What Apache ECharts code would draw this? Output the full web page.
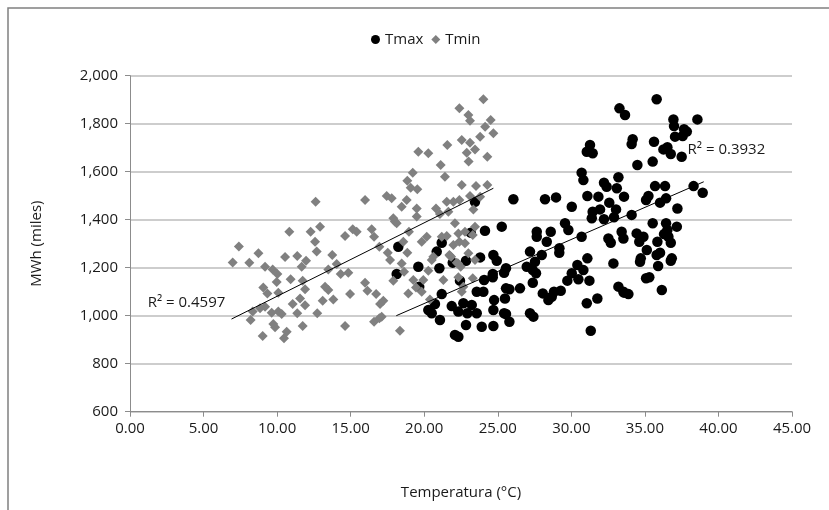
<!DOCTYPE html>
<html>
<head>
<meta charset="utf-8">
<script src="https://cdn.jsdelivr.net/npm/echarts@6/dist/echarts.min.js"></script>
<style>
html,body{margin:0;padding:0;background:#fff}
#chart{width:829px;height:510px}
</style>
</head>
<body>
<div id="chart"></div>
<script>
var xTicks = [0, 45, 5],
    yTicks = [600, 2000, 200];

// [temperatura, MWh]
var tmaxPoints = [
    [18.24,1287],[18.13,1174],[19.6,1204],[19.66,1121],[23.45,1475],[24.13,1354],[25.27,1371],[23.16,1346],
    [21.19,1304],[20.85,1267],[21.94,1221],[22.84,1229],[23.8,1243],[24.7,1253],[24.93,1229],[21.03,1198],
    [22.43,1146],[24.66,1160],[24.07,1149],[21.19,1090],[23.57,1100],[24.02,1100],[24.75,1065],[25.49,1072],
    [25.56,1114],[20.73,1049],[20.28,1024],[20.51,1010],[21.87,1040],[22.32,1017],[22.66,1052],[23.23,1045],
    [22.93,1010],[23.57,1010],[24.7,1024],[25.43,1010],[21.07,982],[22.84,961],[23.91,954],[24.7,957],
    [22.09,920],[22.32,912],[27.19,1267],[27.99,1253],[27.53,1225],[29.18,1262],[26.97,1204],[27.38,1190],
    [27.6,1177],[25.56,1198],[25.43,1179],[24.66,1174],[25.79,1110],[26.51,1114],[27.38,1137],[28.06,1093],
    [28.44,1065],[28.67,1079],[28.82,1100],[29.28,1104],[29.73,1146],[30.03,1177],[30.41,1211],[30.82,1190],
    [30.48,1152],[31.23,1146],[31.09,1239],[31.77,1072],[31.05,1052],[31.32,937],[25.56,1007],[25.79,975],
    [27.19,1010],[27.42,996],[31.27,1711],[31.05,1683],[31.45,1677],[30.7,1596],[30.82,1565],[26.06,1485],
    [28.21,1485],[28.96,1493],[30.03,1454],[31.09,1499],[31.84,1496],[31.45,1433],[31.39,1406],[29.57,1385],
    [29.8,1357],[30.7,1329],[28.6,1350],[27.65,1350],[27.65,1329],[28.33,1308],[29.19,1281],[33.2,1577],
    [32.22,1554],[32.4,1537],[33.09,1531],[33.58,1496],[32.58,1471],[31.95,1443],[33.04,1443],[32.22,1402],
    [32.9,1410],[33.42,1350],[33.54,1322],[32.52,1322],[32.68,1304],[32.86,1218],[33.2,1121],[33.54,1100],
    [35.8,1902],[33.27,1864],[33.65,1836],[36.94,1818],[38.57,1818],[36.98,1790],[37.66,1777],[37.85,1767],
    [37.57,1749],[37.05,1746],[34.17,1735],[34.1,1715],[35.62,1725],[36.26,1693],[36.53,1702],[36.76,1674],
    [37.5,1662],[35.53,1642],[34.49,1628],[35.69,1540],[36.37,1540],[38.31,1540],[38.93,1512],[35.24,1499],
    [35.08,1482],[36.03,1471],[36.44,1489],[37.21,1447],[34.1,1420],[35.53,1385],[36.44,1385],[37.17,1371],
    [36.53,1357],[36.3,1340],[36.6,1329],[34.44,1343],[34.62,1308],[34.9,1329],[35.85,1308],[36.76,1304],
    [35.13,1274],[35.8,1253],[36.03,1262],[36.83,1239],[34.72,1239],[34.67,1225],[36.76,1229],[35.9,1207],
    [35.08,1156],[35.3,1160],[33.58,1096],[33.88,1090],[36.15,1107]
];

var tminPoints = [
    [6.98,1222],[7.4,1288],[8.11,1221],[8.73,1260],[9.18,1204],[9.7,1193],[10.02,1174],[10.54,1245],
    [11.37,1249],[11.67,1204],[11.97,1229],[12.69,1267],[13.75,1253],[10.92,1152],[9.97,1140],[9.06,1118],
    [9.34,1093],[10.08,1096],[11.74,1146],[11.9,1110],[11.56,1072],[11.06,1049],[11.9,1044],[12.73,1010],
    [11.37,1010],[10.31,1007],[10.08,1017],[9.63,1012],[8.84,1031],[9.18,1037],[8.34,1017],[8.2,982],
    [9.74,965],[9.86,952],[9.02,915],[10.65,933],[10.47,906],[11.74,957],[14.62,957],[13.48,1193],
    [14.05,1215],[14.32,1174],[14.84,1179],[13.26,1121],[13.48,1107],[13.1,1062],[13.82,1068],[14.96,1090],
    [15.98,1137],[16.14,1104],[16.73,1090],[17.22,1062],[17.0,1049],[16.95,989],[16.59,975],[17.9,1146],
    [18.47,1218],[18.35,937],[18.92,1093],[19.44,1118],[17.68,1232],[19.6,1683],[19.22,1596],[18.85,1562],
    [19.08,1533],[18.81,1482],[18.47,1454],[19.49,1447],[17.45,1499],[17.79,1489],[15.98,1482],[12.62,1475],
    [17.9,1406],[18.13,1385],[19.49,1413],[16.43,1360],[16.59,1329],[15.14,1360],[15.41,1350],[14.62,1332],
    [12.92,1371],[12.28,1350],[12.58,1308],[10.83,1350],[16.95,1287],[17.52,1262],[18.85,1262],[18.58,1308],
    [24.02,1902],[22.39,1864],[23.0,1836],[23.11,1812],[24.52,1815],[24.14,1787],[24.7,1760],[23.8,1746],
    [22.55,1732],[23.11,1721],[21.57,1711],[20.28,1677],[23.45,1693],[22.89,1679],[24.29,1662],[23.02,1642],
    [21.12,1628],[21.41,1579],[22.55,1545],[23.52,1540],[24.29,1545],[19.53,1527],[23.11,1499],[23.8,1496],
    [21.53,1475],[21.98,1475],[22.39,1482],[23.34,1443],[20.8,1447],[21.07,1424],[21.64,1433],[22.09,1385],
    [20.17,1329],[19.83,1308],[21.19,1329],[22.32,1343],[22.77,1350],[23.45,1371],[22.39,1308],[20.62,1246],
    [21.75,1250],[23.0,1260],[21.98,1295],[18.0,1392],[18.96,1350],[21.53,1332],[23.3,1336],[22.77,1302],
    [21.71,1253],[22.21,1221],[23.45,1232],[22.48,1204],[20.51,1232],[18.63,1183],[19.26,1149],[19.94,1149],
    [20.39,1068],[21.3,1149],[22.32,1160],[22.66,1121],[17.11,996],[21.83,1246],[22.3,1218],[20.28,1187],
    [23.3,1156],[19.83,1100],[22.55,1100]
];

// linhas de tendencia
var tminTrend = [[6.9, 986], [24.7, 1531]],
    tmaxTrend = [[18.1, 1000], [39.0, 1558]];
var tminR2 = ["R² = 0.4597", [1.2, 1053]],
    tmaxR2 = ["R² = 0.3932", [37.9, 1690]];

window.onload = function() {
    var font = "'Open Sans', sans-serif",
        ink = "#1a1a1a",
        chart = echarts.init(document.getElementById("chart"));

    function r2Point(r) {
        return {
            silent: true,
            symbolSize: 0,
            label: {show: true, position: "right", distance: 0, formatter: r[0], color: ink, fontFamily: font, fontSize: 15},
            data: [{coord: r[1]}]
        };
    }
    function trend(name, pts, r) {
        return {
            name: name, type: "line", data: pts, showSymbol: false, silent: true, z: 5,
            lineStyle: {color: "#000", width: 1}, markPoint: r2Point(r)
        };
    }

    chart.setOption({
        animation: false,
        textStyle: {fontFamily: font},
        graphic: [{
            type: "rect", shape: {x: 8, y: 8, width: 900, height: 600},
            style: {fill: "none", stroke: "#808080", lineWidth: 1.5}
        }],
        legend: {
            left: 366, top: 27, itemWidth: 9, itemHeight: 9, itemGap: 8,
            textStyle: {color: ink, fontSize: 15, fontFamily: font},
            data: [{name: "Tmax", icon: "circle"}, {name: "Tmin", icon: "diamond"}]
        },
        grid: {left: 130, right: 37, top: 75.7, bottom: 98.3},
        xAxis: {
            type: "value", min: xTicks[0], max: xTicks[1], interval: xTicks[2],
            name: "Temperatura (°C)", nameLocation: "middle", nameGap: 74,
            nameTextStyle: {color: ink, fontSize: 15, fontFamily: font},
            axisLine: {show: true, lineStyle: {color: "#8c8c8c"}},
            axisTick: {show: true, length: 5, lineStyle: {color: "#8c8c8c"}},
            axisLabel: {color: ink, fontSize: 15, margin: 10, fontFamily: font, formatter: function(v) { return v.toFixed(2); }},
            splitLine: {show: false}
        },
        yAxis: {
            type: "value", min: yTicks[0], max: yTicks[1], interval: yTicks[2],
            name: "MWh (miles)", nameLocation: "middle", nameGap: 86, nameRotate: 90,
            nameTextStyle: {color: ink, fontSize: 15, fontFamily: font},
            axisLine: {show: true, lineStyle: {color: "#8c8c8c"}},
            axisTick: {show: true, length: 5, lineStyle: {color: "#8c8c8c"}},
            axisLabel: {color: ink, fontSize: 15, margin: 12, fontFamily: font, formatter: function(v) { return v.toLocaleString("en-US"); }},
            splitLine: {show: true, lineStyle: {color: "#bdbdbd", width: 1.5}}
        },
        series: [
            {name: "Tmax", type: "scatter", data: tmaxPoints, symbol: "circle", symbolSize: 10.5, itemStyle: {color: "#000", opacity: 1}},
            {name: "Tmin", type: "scatter", data: tminPoints, symbol: "diamond", symbolSize: 10, itemStyle: {color: "#808080", opacity: 1}},
            trend("tminTrend", tminTrend, tminR2),
            trend("tmaxTrend", tmaxTrend, tmaxR2)
        ]
    });
};
</script>
</body>
</html>
